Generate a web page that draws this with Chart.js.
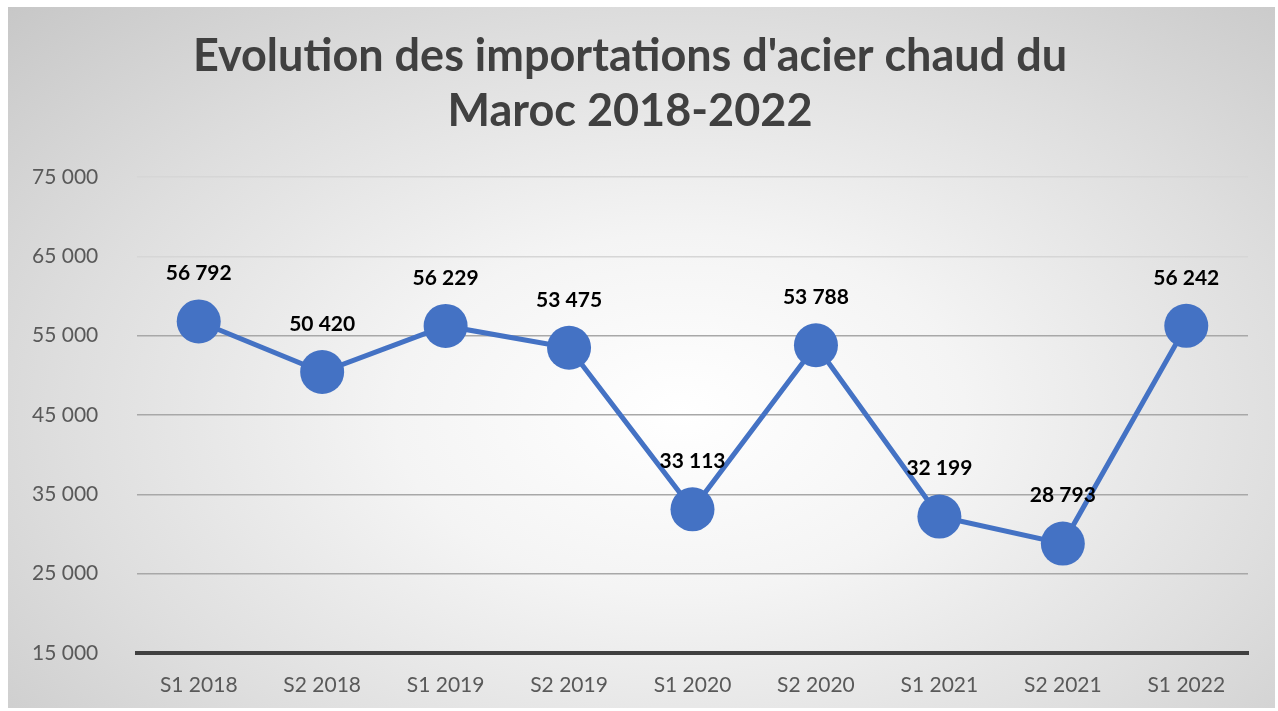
<!DOCTYPE html>
<html>
<head>
<meta charset="utf-8">
<script src="https://cdn.jsdelivr.net/npm/chart.js@4"></script>
<style>
  html, body { margin: 0; padding: 0; background: #fff; }
  #wrap {
    position: absolute; left: 8px; top: 7px; width: 1267px; height: 701px; overflow: hidden;
    background: radial-gradient(ellipse 75% 85% at 53% 58%, #ffffff 0%, #f4f4f4 30%, #dedede 65%, #c6c6c6 100%);
  }
  canvas { display: block; }
</style>
</head>
<body>
<div id="wrap"><canvas id="chart"></canvas></div>
<script>
const categories = ['S1 2018', 'S2 2018', 'S1 2019', 'S2 2019', 'S1 2020', 'S2 2020', 'S1 2021', 'S2 2021', 'S1 2022'];
const imports = [56792, 50420, 56229, 53475, 33113, 53788, 32199, 28793, 56242];
const titleLines = ["Evolution des importations d'acier chaud du", 'Maroc 2018-2022'];

const fmt = n => Math.round(n).toString().replace(/\B(?=(\d{3})+(?!\d))/g, ' ');
const FONT = 'Lato, "Open Sans", sans-serif';

// title is a bit left of the canvas centre in the original, so draw it here
const titleDraw = {
    id: 'titleDraw',
    afterDraw(chart) {
        const ctx = chart.ctx;
        ctx.save();
        ctx.font = 'bold 45px ' + FONT;
        ctx.fillStyle = '#404040';
        ctx.textAlign = 'center';
        ctx.textBaseline = 'middle';
        titleLines.forEach((t, i) => ctx.fillText(t, 622, 49 + i * 55));
        ctx.restore();
    }
};

// value labels above the points
const pointLabels = {
    id: 'pointLabels',
    afterDatasetsDraw(chart) {
        const ctx = chart.ctx;
        const meta = chart.getDatasetMeta(0);
        ctx.save();
        ctx.font = 'bold 21px ' + FONT;
        ctx.fillStyle = '#000';
        ctx.textAlign = 'center';
        ctx.textBaseline = 'middle';
        meta.data.forEach((pt, i) => {
            ctx.fillText(fmt(imports[i]), pt.x, pt.y - 48);
        });
        ctx.restore();
    }
};

const canvas = document.getElementById('chart');
canvas.width = 1267;
canvas.height = 701;

new Chart(canvas.getContext('2d'), {
    type: 'line',
    data: {
        labels: categories,
        datasets: [{
            data: imports,
            borderColor: '#4472C4',
            backgroundColor: '#4472C4',
            borderWidth: 5,
            pointRadius: 22,
            pointHoverRadius: 22,
            pointBorderWidth: 0,
            tension: 0
        }]
    },
    options: {
        responsive: false,
        animation: false,
        layout: { padding: { top: 170, left: 24, right: 27, bottom: 0 } },
        plugins: {
            legend: { display: false },
            tooltip: { enabled: false },
            title: { display: false }
        },
        scales: {
            x: {
                offset: true,
                grid: { display: false, drawTicks: false },
                border: { color: '#404040', width: 4 },
                ticks: { color: '#595959', font: { family: FONT, size: 21 }, padding: 20 },
                afterFit: s => { s.height = 55; }
            },
            y: {
                min: 15000,
                max: 75000,
                grid: {
                    drawTicks: false,
                    lineWidth: 1.5,
                    color: c => c.tick.value >= 65000 ? '#d6d6d6' : (c.tick.value <= 15000 ? 'rgba(0,0,0,0)' : '#a8a8a8')
                },
                border: { display: false },
                ticks: {
                    stepSize: 10000,
                    color: '#595959',
                    font: { family: FONT, size: 21 },
                    crossAlign: 'far',
                    callback: v => fmt(v)
                },
                afterFit: s => { s.width = 105; }
            }
        }
    },
    plugins: [pointLabels, titleDraw]
});
</script>
</body>
</html>
